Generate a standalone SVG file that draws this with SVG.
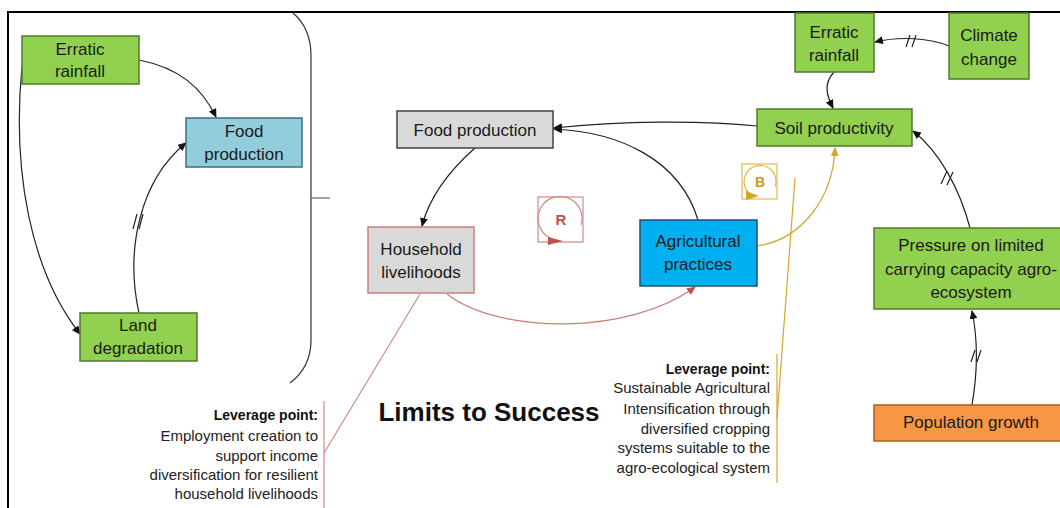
<svg xmlns="http://www.w3.org/2000/svg" width="1060" height="508" viewBox="0 0 1060 508">
<defs>
<marker id="ab" markerUnits="userSpaceOnUse" markerWidth="9" markerHeight="8" refX="8" refY="4" orient="auto"><path d="M0,0 L9,4 L0,8 z" fill="#111"/></marker>
<marker id="ar" markerUnits="userSpaceOnUse" markerWidth="9" markerHeight="8" refX="8" refY="4" orient="auto"><path d="M0,0 L9,4 L0,8 z" fill="#C0504D"/></marker>
<marker id="ay" markerUnits="userSpaceOnUse" markerWidth="9" markerHeight="8" refX="8" refY="4" orient="auto"><path d="M0,0 L9,4 L0,8 z" fill="#D4A62A"/></marker>
<style>
text{font-family:"Liberation Sans",Arial,sans-serif;fill:#1a1a1a}
.n{font-size:17px;text-anchor:middle}
.g{fill:#92D050;stroke:#507A30;stroke-width:1.5}
.c{fill:none;stroke:#222;stroke-width:1.2}
.lv{font-size:15px;text-anchor:end;fill:#222}
.lb{font-size:14px;font-weight:bold;text-anchor:end;fill:#111}
.sl{stroke:#222;stroke-width:1.2}
</style>
</defs>
<rect width="1060" height="508" fill="#fff"/>
<g id="frame" stroke="#000" stroke-width="2" fill="none">
<path d="M7,12 L1060,12"/>
<path d="M8,12 L8,508"/>
</g>
<g id="bracket" fill="none" stroke="#333" stroke-width="1.2">
<path d="M293,13 C306,24 311,40 311,56 L311,340 C311,360 302,374 290,383"/>
<path d="M311,198 L330,198" stroke="#666"/>
</g>
<g id="connectors">
<path class="c" d="M139,60 C180,68 202,88 216,117" marker-end="url(#ab)"/>
<path class="c" d="M22,66 C12,170 30,270 80,334" marker-end="url(#ab)"/>
<path class="c" d="M139,313 C125,250 140,180 186,143" marker-end="url(#ab)"/>
<path class="sl" d="M133,229 L137,214 M139,229 L143,214"/>
<path class="c" d="M475,148 C450,170 430,195 422,226" marker-end="url(#ab)"/>
<path class="c" d="M757,126 C700,120 620,121 554,128" marker-end="url(#ab)"/>
<path class="c" d="M698,220 C680,160 620,132 554,129" marker-end="url(#ab)"/>
<path class="c" d="M949,46 C930,38 900,36 875,42" marker-end="url(#ab)"/>
<path class="sl" d="M906,47 L910,35 M912,47 L916,35"/>
<path class="c" d="M834,72 C822,85 828,98 833,108" marker-end="url(#ab)"/>
<path class="c" d="M970,228 C960,190 940,152 913,131" marker-end="url(#ab)"/>
<path class="sl" d="M941,184 L947,171 M947,185 L953,172"/>
<path class="c" d="M972,405 C978,370 978,340 972,311" marker-end="url(#ab)"/>
<path class="sl" d="M971,362 L975,350 M977,362 L981,350"/>
<path d="M447,294 C500,335 630,335 695,287" fill="none" stroke="#D07C78" stroke-width="1.2" marker-end="url(#ar)"/>
<path d="M757,246 C800,240 833,200 835,148" fill="none" stroke="#D4A62A" stroke-width="1.2" marker-end="url(#ay)"/>
</g>
<g id="callout-left" fill="none" stroke="#D08A87" stroke-width="1.2">
<path d="M420,294 L324,453"/>
<path d="M324,401 L324,508"/>
</g>
<g id="callout-right" fill="none" stroke="#D4A62A" stroke-width="1.2">
<path d="M795,178 L777,418"/>
<path d="M777,354 L777,483"/>
</g>
<g id="loop-R">
<rect x="538" y="197" width="45" height="45" fill="none" stroke="#D08A87" stroke-width="1.2"/>
<path d="M581,225 A22,22 0 1 0 550,238" fill="none" stroke="#D08A87" stroke-width="1.2"/>
<path d="M548,237 L563,241 L548,245 z" fill="#C0504D"/>
<text x="561" y="225" font-size="15" font-weight="bold" text-anchor="middle" style="fill:#C0504D">R</text>
</g>
<g id="loop-B">
<rect x="742" y="164" width="35" height="35" fill="none" stroke="#E0B84C" stroke-width="1.2"/>
<path d="M775,187 A16,16 0 1 0 749,193" fill="none" stroke="#E0B84C" stroke-width="1.2"/>
<path d="M746,191 L759,196 L746,200 z" fill="#D4A62A"/>
<text x="760" y="187" font-size="14" font-weight="bold" text-anchor="middle" style="fill:#C99A1A">B</text>
</g>
<g id="erratic-rainfall-left">
<rect class="g" x="22" y="36" width="117" height="48"/>
<text class="n" x="80" y="55">Erratic</text><text class="n" x="80" y="77">rainfall</text>
</g>
<g id="food-production-left">
<rect x="186" y="118" width="116" height="49" fill="#92CDDC" stroke="#3A6F80" stroke-width="1.5"/>
<text class="n" x="244" y="137">Food</text><text class="n" x="244" y="160">production</text>
</g>
<g id="land-degradation">
<rect class="g" x="80" y="313" width="117" height="48"/>
<text class="n" x="138" y="331">Land</text><text class="n" x="138" y="354">degradation</text>
</g>
<g id="food-production">
<rect x="397" y="111" width="156" height="37" fill="#D9D9D9" stroke="#404040" stroke-width="1.5"/>
<text class="n" x="475" y="136">Food production</text>
</g>
<g id="household-livelihoods">
<rect x="368" y="227" width="106" height="66" fill="#D9D9D9" stroke="#CD7F7C" stroke-width="1.5"/>
<text class="n" x="421" y="255">Household</text><text class="n" x="421" y="278">livelihoods</text>
</g>
<g id="agricultural-practices">
<rect x="640" y="220" width="117" height="66" fill="#00B0F0" stroke="#1F4E79" stroke-width="1.5"/>
<text class="n" x="698" y="247">Agricultural</text><text class="n" x="698" y="270">practices</text>
</g>
<g id="erratic-rainfall-right">
<rect class="g" x="795" y="13" width="79" height="59"/>
<text class="n" x="834" y="38">Erratic</text><text class="n" x="834" y="61">rainfall</text>
</g>
<g id="climate-change">
<rect class="g" x="949" y="13" width="80" height="66"/>
<text class="n" x="989" y="41">Climate</text><text class="n" x="989" y="65">change</text>
</g>
<g id="soil-productivity">
<rect class="g" x="757" y="109" width="155" height="37"/>
<text class="n" x="834" y="134">Soil productivity</text>
</g>
<g id="pressure">
<rect class="g" x="874" y="228" width="190" height="81"/>
<text class="n" x="971" y="251">Pressure on limited</text><text class="n" x="971" y="275">carrying capacity agro-</text><text class="n" x="971" y="298">ecosystem</text>
</g>
<g id="population-growth">
<rect x="874" y="405" width="190" height="36" fill="#F79646" stroke="#B0601E" stroke-width="1.5"/>
<text class="n" x="971" y="428">Population growth</text>
</g>
<g id="leverage-left">
<text class="lb" x="318" y="420">Leverage point:</text>
<text class="lv" x="318" y="441">Employment creation to</text>
<text class="lv" x="318" y="461">support income</text>
<text class="lv" x="318" y="480">diversification for resilient</text>
<text class="lv" x="318" y="499">household livelihoods</text>
</g>
<g id="leverage-right">
<text class="lb" x="770" y="374">Leverage point:</text>
<text class="lv" x="770" y="393">Sustainable Agricultural</text>
<text class="lv" x="770" y="414">Intensification through</text>
<text class="lv" x="770" y="434">diversified cropping</text>
<text class="lv" x="770" y="453">systems suitable to the</text>
<text class="lv" x="770" y="473">agro-ecological system</text>
</g>
<text x="489" y="421" font-size="26" font-weight="bold" text-anchor="middle" style="fill:#111">Limits to Success</text>
</svg>
